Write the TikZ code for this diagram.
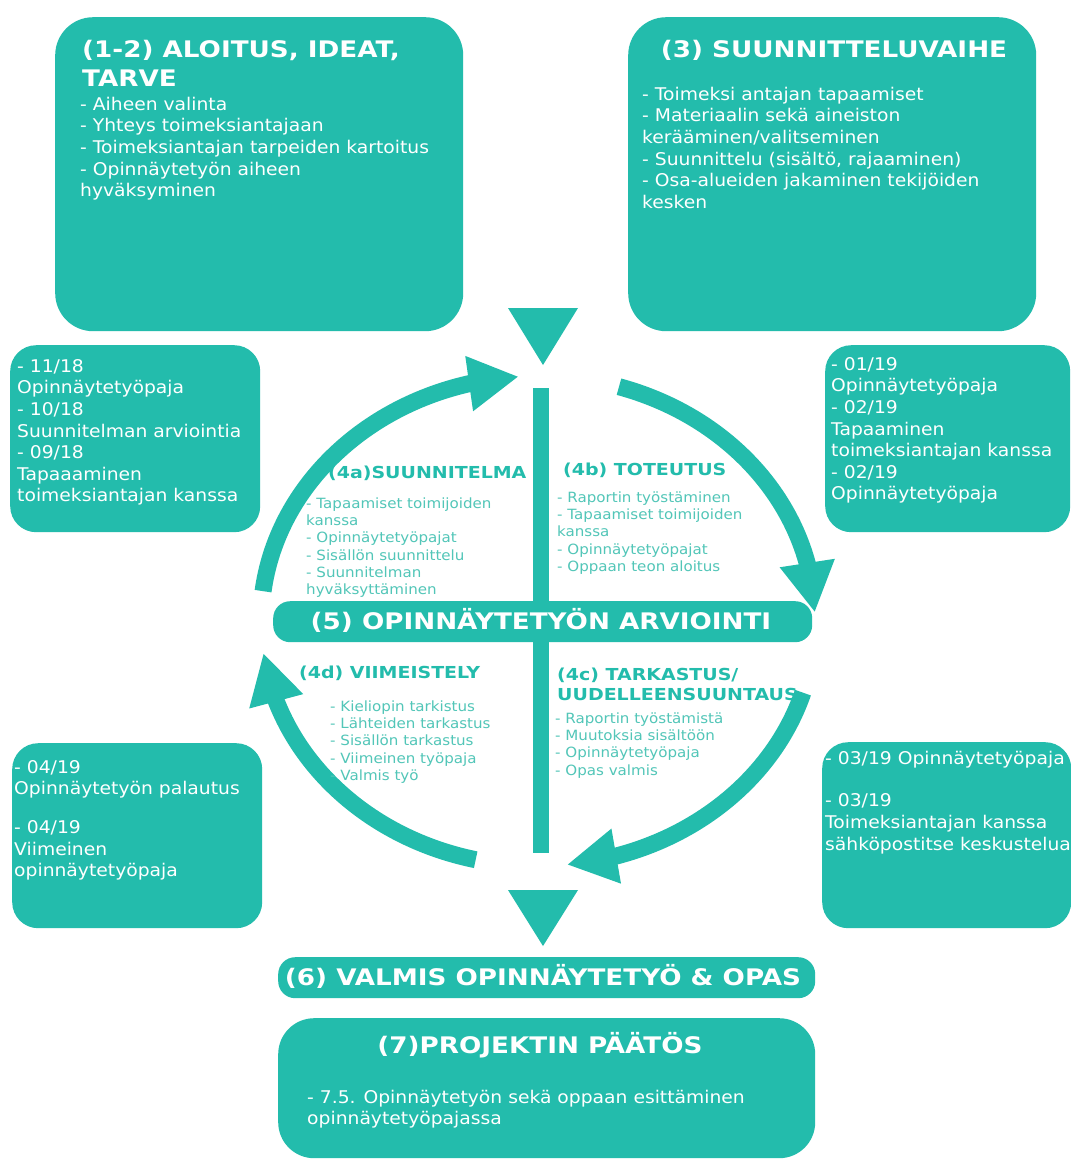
\documentclass[tikz,border=0pt]{standalone}
\usepackage{fontspec}
\setmainfont{DejaVu Sans}[FakeStretch=1.07]
\newfontfamily\hfont{DejaVu Sans}[FakeStretch=1.15]
\usetikzlibrary{arrows.meta,bending}
\definecolor{tealA}{RGB}{35,188,172}
\definecolor{tealB}{RGB}{82,198,184}
\newcommand\tsx{\rule{0pt}{0.9em}}
\begin{document}
\begin{tikzpicture}[x=1pt,y=-1pt,
  tbox/.style={fill=tealA, draw=none, rounded corners=#1, inner sep=0pt, anchor=north west},
  tbox/.default=30pt,
  wtxt/.style={inner sep=0pt, anchor=north west, yshift=15.75pt, align=left, text=white, font=\fontsize{17.5}{21.6}\selectfont},
  wtitle/.style={inner sep=0pt, anchor=base, align=left, text=white, font=\hfont\bfseries\fontsize{22.8}{29}\selectfont},
  wtitleml/.style={inner sep=0pt, anchor=north west, yshift=20.5pt, align=left, text=white, font=\hfont\bfseries\fontsize{22.8}{29}\selectfont},
  ititle/.style={inner sep=0pt, anchor=base west, align=left, text=tealA, font=\hfont\bfseries\fontsize{16.5}{20.5}\selectfont},
  ititleml/.style={inner sep=0pt, anchor=north west, yshift=14.85pt, align=left, text=tealA, font=\hfont\bfseries\fontsize{16.5}{20.5}\selectfont},
  itxt/.style={inner sep=0pt, anchor=north west, yshift=12.69pt, align=left, text=tealB, font=\fontsize{14.1}{17.3}\selectfont},
  cyc/.style={draw=tealA, line width=17pt, -{Triangle[length=50pt,width=52pt]}},
  stem/.style={draw=tealA, line width=16pt},
  tri/.style={fill=tealA, draw=none}]
\useasboundingbox[fill=white] (0,0) rectangle (1071,1160);

% cycle arrows
\coordinate (C) at (538,621);
\draw[cyc] ([shift={(187:277 and 245)}]C) arc[start angle=187, end angle=266, x radius=277, y radius=245];
\draw[cyc] ([shift={(287:277 and 245)}]C) arc[start angle=287, end angle=358, x radius=277, y radius=245];
\draw[cyc] ([shift={(17:277 and 245)}]C) arc[start angle=17, end angle=84, x radius=277, y radius=245];
\draw[cyc] ([shift={(103:277 and 245)}]C) arc[start angle=103, end angle=172.5, x radius=277, y radius=245];

% central stem
\coordinate (vtop) at (541,388);
\coordinate (vbot) at (541,853);
\draw[stem] (vtop) -- (vbot);

% down triangles
\fill[tri] (508,308) -- (578,308) -- (543,365) -- cycle;
\fill[tri] (508,890) -- (578,890) -- (543,946) -- cycle;

% boxes
\node[tbox=38pt, minimum width=408pt, minimum height=314pt] (boxA) at (55,17) {};
\node[tbox=38pt, minimum width=408pt, minimum height=314pt] (boxB) at (628,17) {};
\node[tbox=26pt, minimum width=250pt, minimum height=187pt] (boxL1) at (10,345) {};
\node[tbox=26pt, minimum width=245pt, minimum height=187pt] (boxR1) at (825,345) {};
\node[tbox=26pt, minimum width=250pt, minimum height=185pt] (boxL2) at (12,743) {};
\node[tbox=26pt, minimum width=249pt, minimum height=186pt] (boxR2) at (822,742) {};
\node[tbox=17pt, minimum width=539pt, minimum height=41pt] (box5) at (273,601) {};
\node[tbox=17pt, minimum width=537pt, minimum height=41pt] (box6) at (278,957) {};
\node[tbox=36pt, minimum width=537pt, minimum height=140pt] (box7) at (278,1018) {};

% texts in boxes (coordinates give the first baseline)
\node[wtitleml] (tA) at (82,57) {\tsx(1-2) ALOITUS, IDEAT,\\TARVE};
\node[wtxt] (bA) at (80,110) {\tsx- Aiheen valinta\\- Yhteys toimeksiantajaan\\- Toimeksiantajan tarpeiden kartoitus\\- Opinnäytetyön aiheen\\hyväksyminen};
\node[wtitle] (tB) at (834,57) {(3) SUUNNITTELUVAIHE};
\node[wtxt] (bB) at (642,100) {\tsx- Toimeksi antajan tapaamiset\\- Materiaalin sekä aineiston\\kerääminen/valitseminen\\- Suunnittelu (sisältö, rajaaminen)\\- Osa-alueiden jakaminen tekijöiden\\kesken};
\node[wtxt] (tL1) at (17,372) {\tsx- 11/18\\Opinnäytetyöpaja\\- 10/18\\Suunnitelman arviointia\\- 09/18\\Tapaaaminen\\toimeksiantajan kanssa};
\node[wtxt] (tR1) at (831,370) {\tsx- 01/19\\Opinnäytetyöpaja\\- 02/19\\Tapaaminen\\toimeksiantajan kanssa\\- 02/19\\Opinnäytetyöpaja};
\node[wtxt] (tL2) at (14,773) {\tsx- 04/19\\Opinnäytetyön palautus\\[17pt]- 04/19\\Viimeinen\\opinnäytetyöpaja};
\node[wtxt] (tR2) at (825,764) {\tsx- 03/19 Opinnäytetyöpaja\\[21pt]- 03/19\\Toimeksiantajan kanssa\\sähköpostitse keskustelua};
\node[wtitle] (t5) at (541,629) {(5) OPINNÄYTETYÖN ARVIOINTI};
\node[wtitle] (t6) at (543,985) {(6) VALMIS OPINNÄYTETYÖ \& OPAS};
\node[wtitle] (t7) at (540,1053) {(7)PROJEKTIN PÄÄTÖS};
\node[wtxt] (b7) at (307,1103) {\tsx- 7.5. Opinnäytetyön sekä oppaan esittäminen\\opinnäytetyöpajassa};

% inner quadrant texts
\node[ititle] (t4a) at (328,478) {(4a)SUUNNITELMA};
\node[itxt] (b4a) at (306,508) {\tsx- Tapaamiset toimijoiden\\kanssa\\- Opinnäytetyöpajat\\- Sisällön suunnittelu\\- Suunnitelman\\hyväksyttäminen};
\node[ititle] (t4b) at (563,475) {(4b) TOTEUTUS};
\node[itxt] (b4b) at (557,502) {\tsx- Raportin työstäminen\\- Tapaamiset toimijoiden\\kanssa\\- Opinnäytetyöpajat\\- Oppaan teon aloitus};
\node[ititle] (t4d) at (299,678) {(4d) VIIMEISTELY};
\node[itxt] (b4d) at (330,711) {\tsx- Kieliopin tarkistus\\- Lähteiden tarkastus\\- Sisällön tarkastus\\- Viimeinen työpaja\\- Valmis työ};
\node[ititleml] (t4c) at (557,680) {\tsx(4c) TARKASTUS/\\UUDELLEENSUUNTAUS};
\node[itxt] (b4c) at (555,723) {\tsx- Raportin työstämistä\\- Muutoksia sisältöön\\- Opinnäytetyöpaja\\- Opas valmis};
\end{tikzpicture}
\end{document}
